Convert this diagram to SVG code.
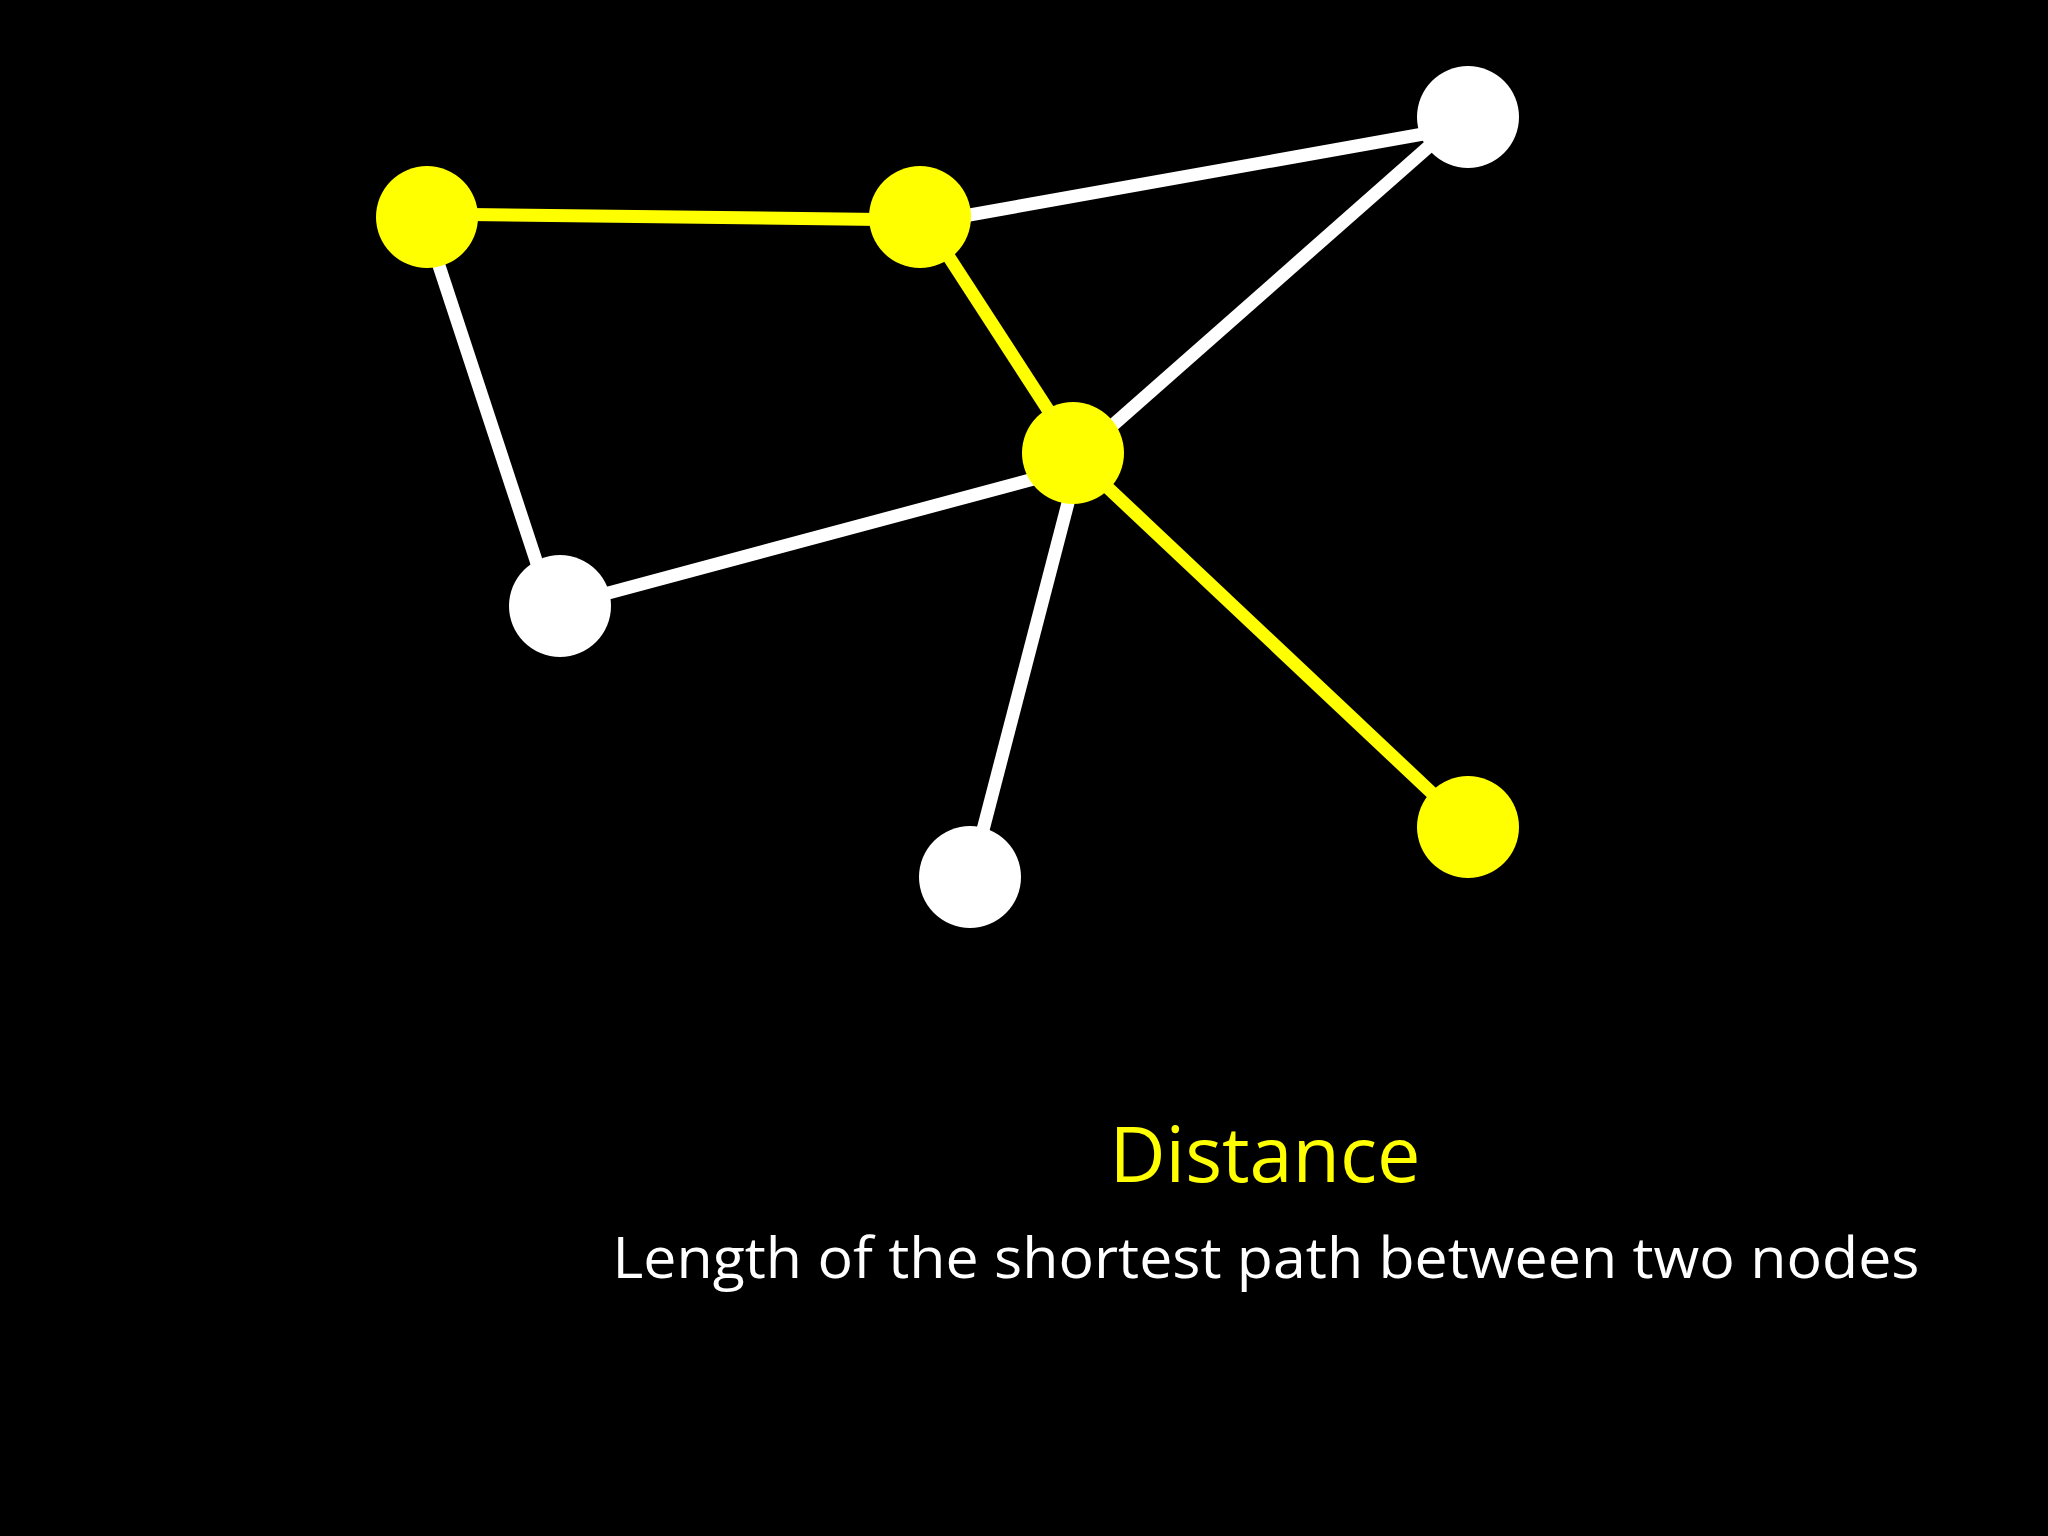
<svg xmlns="http://www.w3.org/2000/svg" width="2048" height="1536" viewBox="0 0 2048 1536">
  <style>
    .edge { stroke-width: 13; stroke-linecap: butt; fill: none; }
    .w { stroke: #FFFFFF; }
    .y { stroke: #FFFF00; }
    .nw { fill: #FFFFFF; }
    .ny { fill: #FFFF00; }
    .title { font-family: "Open Sans", "Liberation Sans", sans-serif; font-size: 77px; fill: #FFFF00; }
    .sub { font-family: "Open Sans", "Liberation Sans", sans-serif; font-size: 57px; fill: #FFFFFF; }
  </style>
  <rect x="0" y="0" width="2048" height="1536" fill="#000000"/>
  <g id="connectors">
    <line class="edge y" x1="427" y1="214" x2="920" y2="220"/>
    <line class="edge w" x1="919" y1="224" x2="1468" y2="126"/>
    <line class="edge y" x1="923" y1="217" x2="1076" y2="453"/>
    <line class="edge w" x1="1468" y1="112" x2="1071" y2="462"/>
    <line class="edge w" x1="1071" y1="469" x2="560" y2="606"/>
    <line class="edge w" x1="423" y1="217" x2="551" y2="606"/>
    <line class="edge w" x1="1081" y1="453" x2="971" y2="876"/>
    <line class="edge y" x1="1071" y1="453" x2="1468" y2="827"/>
  </g>
  <g id="node-a"><circle class="ny" cx="427" cy="217" r="51"/></g>
  <g id="node-b"><circle class="ny" cx="920" cy="217" r="51"/></g>
  <g id="node-c"><circle class="nw" cx="1468" cy="117" r="51"/></g>
  <g id="node-d"><circle class="ny" cx="1073" cy="453" r="51"/></g>
  <g id="node-e"><circle class="nw" cx="560" cy="606" r="51"/></g>
  <g id="node-f"><circle class="nw" cx="970" cy="877" r="51"/></g>
  <g id="node-g"><circle class="ny" cx="1468" cy="827" r="51"/></g>
  <g id="caption">
    <text class="title" x="1265" y="1182" text-anchor="middle" textLength="311" lengthAdjust="spacingAndGlyphs">Distance</text>
    <text class="sub" x="1266" y="1278" text-anchor="middle" textLength="1307" lengthAdjust="spacingAndGlyphs">Length of the shortest path between two nodes</text>
  </g>
</svg>
